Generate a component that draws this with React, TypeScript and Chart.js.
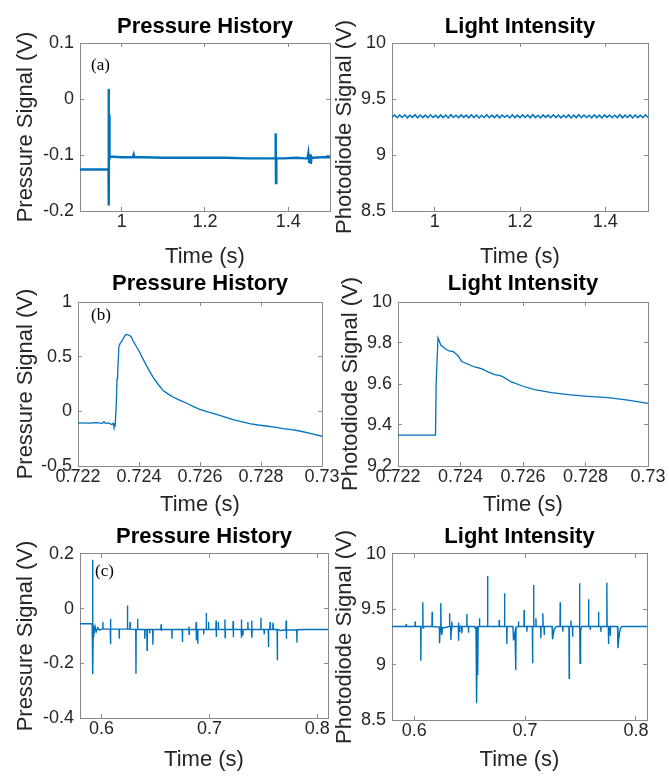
import React, { useEffect, useRef } from 'react';
import { Chart, registerables } from 'chart.js';
Chart.register(...registerables);

const W = 669;
const H = 778;
const FONT = "'Liberation Sans', Arial, Helvetica, sans-serif";
const SERIF = "'Liberation Serif', 'Times New Roman', serif";
const LINE = '#0072BD';
const AXIS = '#262626';
const BOX = '#8a8a8a';

// ---------- (a) pressure history ----------
const aPressT = [0.900, 0.930, 0.966, 0.9684, 0.9688, 0.9692, 0.9696, 0.9700, 0.9704, 0.9720, 0.9800, 1.0000, 1.0200, 1.0270, 1.0290, 1.0310, 1.0500, 1.1000, 1.1500, 1.2000, 1.2500, 1.3000, 1.3500, 1.3680, 1.3696, 1.3704, 1.3712, 1.3730, 1.3900, 1.4200, 1.4400, 1.4460, 1.4480, 1.4500, 1.4520, 1.4540, 1.4560, 1.4600, 1.4800, 1.5000];
const aPressV = [-0.126, -0.126, -0.126, -0.125, 0.018, -0.190, -0.028, -0.100, -0.108, -0.103, -0.103, -0.104, -0.104, -0.104, -0.099, -0.104, -0.104, -0.105, -0.105, -0.105, -0.105, -0.106, -0.106, -0.106, -0.061, -0.150, -0.106, -0.106, -0.106, -0.105, -0.106, -0.106, -0.097, -0.114, -0.099, -0.116, -0.104, -0.105, -0.104, -0.104];

// ---------- (a) light intensity ----------
const aLightT = [
  0.900, 0.906, 0.912, 0.918, 0.924, 0.930, 0.936, 0.942, 0.948, 0.954,
  0.960, 0.966, 0.972, 0.978, 0.984, 0.990, 0.996, 1.002, 1.008, 1.014,
  1.020, 1.026, 1.032, 1.038, 1.044, 1.050, 1.056, 1.062, 1.068, 1.074,
  1.080, 1.086, 1.092, 1.098, 1.104, 1.110, 1.116, 1.122, 1.128, 1.134,
  1.140, 1.146, 1.152, 1.158, 1.164, 1.170, 1.176, 1.182, 1.188, 1.194,
  1.200, 1.206, 1.212, 1.218, 1.224, 1.230, 1.236, 1.242, 1.248, 1.254,
  1.260, 1.266, 1.272, 1.278, 1.284, 1.290, 1.296, 1.302, 1.308, 1.314,
  1.320, 1.326, 1.332, 1.338, 1.344, 1.350, 1.356, 1.362, 1.368, 1.374,
  1.380, 1.386, 1.392, 1.398, 1.404, 1.410, 1.416, 1.422, 1.428, 1.434,
  1.440, 1.446, 1.452, 1.458, 1.464, 1.470, 1.476, 1.482, 1.488, 1.494,
  1.500,
];
const aLightV = [
  9.340, 9.358, 9.333, 9.356, 9.335, 9.359, 9.332, 9.355, 9.336, 9.360,
  9.331, 9.357, 9.334, 9.356, 9.333, 9.359, 9.335, 9.354, 9.332, 9.358,
  9.334, 9.357, 9.331, 9.360, 9.335, 9.355, 9.333, 9.358, 9.336, 9.356,
  9.332, 9.359, 9.334, 9.357, 9.331, 9.355, 9.335, 9.360, 9.333, 9.356,
  9.334, 9.358, 9.332, 9.357, 9.336, 9.355, 9.331, 9.359, 9.334, 9.356,
  9.333, 9.358, 9.335, 9.357, 9.332, 9.360, 9.334, 9.355, 9.331, 9.358,
  9.336, 9.356, 9.333, 9.359, 9.334, 9.357, 9.332, 9.355, 9.335, 9.358,
  9.331, 9.356, 9.334, 9.360, 9.333, 9.357, 9.335, 9.355, 9.332, 9.359,
  9.334, 9.356, 9.331, 9.358, 9.336, 9.357, 9.333, 9.355, 9.334, 9.360,
  9.332, 9.356, 9.335, 9.358, 9.331, 9.357, 9.334, 9.355, 9.333, 9.359,
  9.335,
];

// ---------- (b) pressure history ----------
const bPressT = [0.72200, 0.72240, 0.72260, 0.72280, 0.72285, 0.72290, 0.72300, 0.72310, 0.72315, 0.72318, 0.72320, 0.72322, 0.72326, 0.72328, 0.72330, 0.72334, 0.72338, 0.72343, 0.72348, 0.72353, 0.72358, 0.72364, 0.72369, 0.72375, 0.72380, 0.72390, 0.72402, 0.72413, 0.72424, 0.72435, 0.72446, 0.72462, 0.72479, 0.72495, 0.72511, 0.72533, 0.72555, 0.72577, 0.72599, 0.72626, 0.72654, 0.72680, 0.72708, 0.72735, 0.72763, 0.72790, 0.72817, 0.72845, 0.72872, 0.72900, 0.72927, 0.72965, 0.73000];
const bPressV = [-0.106, -0.108, -0.104, -0.110, -0.095, -0.110, -0.105, -0.120, -0.110, -0.140, -0.125, -0.130, 0.100, 0.300, 0.350, 0.590, 0.620, 0.640, 0.663, 0.690, 0.703, 0.700, 0.694, 0.680, 0.648, 0.600, 0.540, 0.480, 0.420, 0.365, 0.313, 0.250, 0.190, 0.160, 0.131, 0.103, 0.076, 0.045, 0.018, -0.006, -0.027, -0.050, -0.076, -0.095, -0.113, -0.125, -0.134, -0.145, -0.158, -0.168, -0.180, -0.203, -0.228];

// ---------- (b) light intensity ----------
const bLightT = [0.72200, 0.72320, 0.72322, 0.72328, 0.72337, 0.72350, 0.72365, 0.72376, 0.72387, 0.72395, 0.72403, 0.72419, 0.72445, 0.72467, 0.72488, 0.72509, 0.72527, 0.72536, 0.72563, 0.72600, 0.72637, 0.72691, 0.72744, 0.72808, 0.72872, 0.72936, 0.73000];
const bLightV = [9.351, 9.351, 9.600, 9.825, 9.790, 9.773, 9.760, 9.759, 9.745, 9.732, 9.711, 9.700, 9.683, 9.675, 9.659, 9.646, 9.641, 9.635, 9.610, 9.589, 9.573, 9.558, 9.548, 9.540, 9.534, 9.521, 9.505];

// ---------- (c) pressure history ----------
const cPressT = [
  0.5800, 0.5909, 0.5913, 0.5916, 0.5918, 0.5920, 0.5923, 0.5930, 0.5940, 0.5950, 0.5965, 0.5980,
  0.6010, 0.6012, 0.6014,
  0.6080, 0.6082, 0.6084, 0.6086,
  0.6162, 0.6164, 0.6166,
  0.6238, 0.6240, 0.6242,
  0.6262, 0.6264, 0.6266,
  0.6317, 0.6319, 0.6321,
  0.6332, 0.6334, 0.6336,
  0.6399, 0.6401, 0.6403,
  0.6420, 0.6422, 0.6424,
  0.6444, 0.6446, 0.6448,
  0.6474, 0.6476, 0.6478,
  0.6550, 0.6552, 0.6554, 0.6556,
  0.6651, 0.6653, 0.6655,
  0.6748, 0.6750, 0.6752,
  0.6808, 0.6810, 0.6812, 0.6814,
  0.6875, 0.6877, 0.6879, 0.6881,
  0.6890, 0.6892, 0.6894,
  0.6945, 0.6947, 0.6949,
  0.6969, 0.6971, 0.6973,
  0.6990, 0.6992, 0.6994,
  0.7060, 0.7062, 0.7064, 0.7066,
  0.7081, 0.7083, 0.7085,
  0.7142, 0.7144, 0.7146, 0.7148,
  0.7218, 0.7220, 0.7222, 0.7224,
  0.7294, 0.7296, 0.7298, 0.7300,
  0.7309, 0.7311, 0.7313,
  0.7355, 0.7357, 0.7359,
  0.7391, 0.7393, 0.7395, 0.7397,
  0.7476, 0.7478, 0.7480,
  0.7506, 0.7508, 0.7510,
  0.7546, 0.7548, 0.7550,
  0.7561, 0.7563, 0.7565,
  0.7588, 0.7590, 0.7592,
  0.7628, 0.7630, 0.7632,
  0.7650, 0.7660, 0.7690,
  0.7710, 0.7712, 0.7714, 0.7716,
  0.7810, 0.7812, 0.7814,
  0.7900, 0.8000, 0.8100,
];
const cPressV = [
  -0.055, -0.055, -0.056, 0.179, 0.067, -0.240, -0.060, -0.090, -0.065, -0.085, -0.070, -0.078,
  -0.075, -0.049, -0.075,
  -0.075, -0.037, -0.130, -0.075,
  -0.075, -0.110, -0.075,
  -0.075, 0.012, -0.075,
  -0.075, -0.049, -0.075,
  -0.076, -0.238, -0.076,
  -0.076, -0.037, -0.076,
  -0.076, -0.110, -0.076,
  -0.076, -0.152, -0.076,
  -0.076, -0.091, -0.076,
  -0.076, -0.132, -0.076,
  -0.076, -0.057, -0.082, -0.076,
  -0.076, -0.110, -0.076,
  -0.076, -0.122, -0.076,
  -0.076, -0.065, -0.094, -0.076,
  -0.076, -0.049, -0.116, -0.076,
  -0.076, -0.128, -0.076,
  -0.076, -0.094, -0.076,
  -0.076, -0.016, -0.076,
  -0.076, -0.049, -0.076,
  -0.076, -0.043, -0.104, -0.076,
  -0.076, -0.049, -0.076,
  -0.076, -0.040, -0.106, -0.076,
  -0.076, -0.045, -0.104, -0.076,
  -0.076, -0.040, -0.106, -0.076,
  -0.076, -0.098, -0.076,
  -0.076, -0.049, -0.076,
  -0.076, -0.043, -0.106, -0.076,
  -0.076, -0.033, -0.076,
  -0.076, -0.091, -0.076,
  -0.076, -0.140, -0.076,
  -0.076, -0.049, -0.076,
  -0.076, -0.052, -0.076,
  -0.076, -0.189, -0.076,
  -0.079, -0.080, -0.078,
  -0.078, -0.043, -0.110, -0.078,
  -0.077, -0.124, -0.077,
  -0.076, -0.076, -0.076,
];

// ---------- (c) light intensity ----------
const cLightT = [
  0.5800,
  0.5926, 0.5928, 0.5930,
  0.6007, 0.6009, 0.6011,
  0.6058, 0.6060, 0.6062,
  0.6076, 0.6078, 0.6080, 0.6085,
  0.6160, 0.6162, 0.6164,
  0.6227, 0.6229, 0.6233, 0.6239, 0.6241, 0.6243, 0.6248, 0.6250, 0.6256,
  0.6317, 0.6319, 0.6321, 0.6329, 0.6331, 0.6335, 0.6338, 0.6340, 0.6342,
  0.6398, 0.6400, 0.6402, 0.6406, 0.6412,
  0.6428, 0.6430, 0.6434,
  0.6473, 0.6475, 0.6477, 0.6488, 0.6490, 0.6492,
  0.6545, 0.6550, 0.6557, 0.6559, 0.6561, 0.6563, 0.6565, 0.6568, 0.6572, 0.6574, 0.6577, 0.6587, 0.6589, 0.6591,
  0.6660, 0.6662, 0.6664,
  0.6765, 0.6767, 0.6769,
  0.6813, 0.6815, 0.6817, 0.6834, 0.6836, 0.6838,
  0.6890, 0.6896, 0.6902, 0.6910, 0.6915, 0.6917, 0.6919, 0.6930,
  0.6939, 0.6941, 0.6943,
  0.6990, 0.6992, 0.6994, 0.7015, 0.7017, 0.7019,
  0.7066, 0.7068, 0.7070, 0.7075, 0.7077, 0.7079, 0.7096, 0.7098, 0.7100,
  0.7141, 0.7143, 0.7145, 0.7159, 0.7161, 0.7163, 0.7171, 0.7173, 0.7175,
  0.7244, 0.7248, 0.7254, 0.7262, 0.7272, 0.7285,
  0.7315, 0.7317, 0.7319, 0.7339, 0.7341, 0.7343,
  0.7396, 0.7398, 0.7400, 0.7412, 0.7414, 0.7416, 0.7427, 0.7429, 0.7431,
  0.7490, 0.7492, 0.7494, 0.7496, 0.7499, 0.7503, 0.7510,
  0.7571, 0.7573, 0.7575, 0.7586, 0.7588, 0.7590,
  0.7661, 0.7663, 0.7665, 0.7682, 0.7684, 0.7686,
  0.7736, 0.7738, 0.7740, 0.7751, 0.7753, 0.7755, 0.7766, 0.7768, 0.7770,
  0.7834, 0.7838, 0.7844, 0.7852, 0.7862, 0.7875,
  0.7950, 0.8100,
];
const cLightV = [
  9.345,
  9.345, 9.367, 9.345,
  9.345, 9.389, 9.345,
  9.345, 9.036, 9.345,
  9.345, 9.563, 9.330, 9.345,
  9.345, 9.479, 9.345,
  9.340, 9.193, 9.300, 9.345, 9.554, 9.345, 9.345, 9.268, 9.330,
  9.345, 9.464, 9.345, 9.345, 9.223, 9.320, 9.345, 9.389, 9.345,
  9.345, 9.217, 9.380, 9.300, 9.345,
  9.345, 9.283, 9.345,
  9.345, 9.458, 9.345, 9.345, 9.289, 9.345,
  9.345, 9.330, 9.345, 9.163, 9.340, 9.345, 8.651, 9.200, 9.350, 8.907, 9.345, 9.345, 9.419, 9.345,
  9.345, 9.801, 9.345,
  9.345, 9.404, 9.345,
  9.345, 9.645, 9.345, 9.345, 9.187, 9.345,
  9.345, 9.220, 9.260, 9.300, 9.320, 8.952, 9.330, 9.345,
  9.345, 9.389, 9.345,
  9.345, 9.494, 9.345, 9.345, 9.298, 9.345,
  9.345, 9.012, 9.330, 9.345, 9.720, 9.345, 9.345, 9.419, 9.345,
  9.345, 9.238, 9.345, 9.345, 9.464, 9.345, 9.345, 9.268, 9.345,
  9.345, 9.229, 9.270, 9.310, 9.335, 9.345,
  9.345, 9.563, 9.345, 9.345, 9.298, 9.345,
  9.345, 8.877, 9.345, 9.345, 9.398, 9.345, 9.345, 9.253, 9.345,
  9.345, 9.735, 9.345, 9.012, 9.148, 9.300, 9.345,
  9.345, 9.590, 9.345, 9.345, 9.313, 9.345,
  9.345, 9.479, 9.345, 9.345, 9.298, 9.345,
  9.345, 9.741, 9.345, 9.345, 9.187, 9.345, 9.345, 9.268, 9.345,
  9.345, 9.148, 9.220, 9.290, 9.330, 9.345,
  9.345, 9.345,
];

// ---------- ticks ----------
const xTicksA = [1, 1.2, 1.4];
const xLabelsA = ['1', '1.2', '1.4'];
const xTicksB = [0.722, 0.724, 0.726, 0.728, 0.73];
const xLabelsB = ['0.722', '0.724', '0.726', '0.728', '0.73'];
const xTicksC = [0.6, 0.7, 0.8];
const xLabelsC = ['0.6', '0.7', '0.8'];
const yTicksPA = [-0.2, -0.1, 0, 0.1];
const yLabelsPA = ['-0.2', '-0.1', '0', '0.1'];
const yTicksLA = [8.5, 9, 9.5, 10];
const yLabelsLA = ['8.5', '9', '9.5', '10'];
const yTicksPB = [-0.5, 0, 0.5, 1];
const yLabelsPB = ['-0.5', '0', '0.5', '1'];
const yTicksLB = [9.2, 9.4, 9.6, 9.8, 10];
const yLabelsLB = ['9.2', '9.4', '9.6', '9.8', '10'];
const yTicksPC = [-0.4, -0.2, 0, 0.2];
const yLabelsPC = ['-0.4', '-0.2', '0', '0.2'];

type Panel = {
  title: string; yTitle: string; label: string;
  t: number[]; v: number[]; lw: number;
  xMin: number; xMax: number; xTicks: number[]; xLabels: string[];
  yMin: number; yMax: number; yTicks: number[]; yLabels: string[];
  area: number[]; titleY: number; xTitleY: number; yTitleX: number; labelPos: number[];
};

const panels: Panel[] = [
  { title: 'Pressure History', yTitle: 'Pressure Signal (V)', label: '(a)', t: aPressT, v: aPressV, lw: 2.4,
    xMin: 0.9, xMax: 1.5, xTicks: xTicksA, xLabels: xLabelsA, yMin: -0.2, yMax: 0.1, yTicks: yTicksPA, yLabels: yLabelsPA,
    area: [80, 43, 330, 211], titleY: 26.5, xTitleY: 257, yTitleX: 26, labelPos: [11, 23] },
  { title: 'Light Intensity', yTitle: 'Photodiode Signal (V)', label: '', t: aLightT, v: aLightV, lw: 1.5,
    xMin: 0.9, xMax: 1.5, xTicks: xTicksA, xLabels: xLabelsA, yMin: 8.5, yMax: 10, yTicks: yTicksLA, yLabels: yLabelsLA,
    area: [392, 43, 648, 211], titleY: 26.5, xTitleY: 257, yTitleX: 345, labelPos: [0, 0] },
  { title: 'Pressure History', yTitle: 'Pressure Signal (V)', label: '(b)', t: bPressT, v: bPressV, lw: 1.3,
    xMin: 0.722, xMax: 0.73, xTicks: xTicksB, xLabels: xLabelsB, yMin: -0.5, yMax: 1, yTicks: yTicksPB, yLabels: yLabelsPB,
    area: [78, 302, 322, 466], titleY: 283.5, xTitleY: 505, yTitleX: 26, labelPos: [13, 14] },
  { title: 'Light Intensity', yTitle: 'Photodiode Signal (V)', label: '', t: bLightT, v: bLightV, lw: 1.3,
    xMin: 0.722, xMax: 0.73, xTicks: xTicksB, xLabels: xLabelsB, yMin: 9.2, yMax: 10, yTicks: yTicksLB, yLabels: yLabelsLB,
    area: [398, 302, 648, 466], titleY: 283.5, xTitleY: 505, yTitleX: 351, labelPos: [0, 0] },
  { title: 'Pressure History', yTitle: 'Pressure Signal (V)', label: '(c)', t: cPressT, v: cPressV, lw: 1.4,
    xMin: 0.58, xMax: 0.81, xTicks: xTicksC, xLabels: xLabelsC, yMin: -0.4, yMax: 0.2, yTicks: yTicksPC, yLabels: yLabelsPC,
    area: [80, 554, 328, 718], titleY: 536.5, xTitleY: 760, yTitleX: 26, labelPos: [15, 18] },
  { title: 'Light Intensity', yTitle: 'Photodiode Signal (V)', label: '', t: cLightT, v: cLightV, lw: 1.4,
    xMin: 0.58, xMax: 0.81, xTicks: xTicksC, xLabels: xLabelsC, yMin: 8.5, yMax: 10, yTicks: yTicksLA, yLabels: yLabelsLA,
    area: [392, 554, 647, 720], titleY: 537, xTitleY: 760, yTitleX: 345, labelPos: [0, 0] },
];

const YW = 60;
const XH = 56;
const TITLE_SIZE = 22;
const LH = TITLE_SIZE * 1.2;
const TICK_SIZE = 18;

function labelFor(ticks: number[], labels: string[], val: number) {
  const i = ticks.findIndex((t) => Math.abs(t - val) < 1e-9);
  return i >= 0 ? labels[i] : '';
}

function makeConfig(p: Panel): any {
  const [L, T, R, B] = p.area;
  const tickFont = { family: FONT, size: TICK_SIZE };
  const xTickObjs = () => p.xTicks.map((v) => ({ value: v }));
  const yTickObjs = () => p.yTicks.map((v) => ({ value: v }));
  const textPlugin = {
    id: 'panelText',
    afterDraw(chart: any) {
      const ctx = chart.ctx;
      const ca = chart.chartArea;
      ctx.save();
      ctx.translate(p.yTitleX, (ca.top + ca.bottom) / 2);
      ctx.rotate(-Math.PI / 2);
      ctx.font = `${TITLE_SIZE}px ${FONT}`;
      ctx.fillStyle = AXIS;
      ctx.textAlign = 'center';
      ctx.textBaseline = 'middle';
      ctx.fillText(p.yTitle, 0, 0);
      ctx.restore();
      if (p.label) {
        ctx.save();
        ctx.font = `17px ${SERIF}`;
        ctx.fillStyle = '#000';
        ctx.textAlign = 'left';
        ctx.textBaseline = 'middle';
        ctx.fillText(p.label, ca.left + p.labelPos[0], ca.top + p.labelPos[1]);
        ctx.restore();
      }
    },
  };
  return {
    type: 'line',
    data: {
      datasets: [{
        data: p.t.map((x, i) => ({ x, y: p.v[i] })),
        borderColor: LINE,
        borderWidth: p.lw,
        pointRadius: 0,
        tension: 0,
        fill: false,
        borderJoinStyle: 'miter',
      }],
    },
    options: {
      responsive: false,
      animation: false,
      events: [],
      layout: { padding: { left: L - YW, right: W - R, top: 0, bottom: H - B - XH } },
      plugins: {
        legend: { display: false },
        tooltip: { enabled: false },
        title: {
          display: true, text: p.title, fullSize: false, color: '#000',
          font: { family: FONT, size: TITLE_SIZE, weight: 'bold' },
          padding: { top: p.titleY - LH / 2, bottom: T - p.titleY - LH / 2 },
        },
      },
      scales: {
        x: {
          type: 'linear', position: 'bottom', min: p.xMin, max: p.xMax,
          afterBuildTicks: (s: any) => { s.ticks = xTickObjs(); },
          afterFit: (s: any) => { s.height = XH; s.paddingLeft = 0; s.paddingRight = 0; },
          ticks: { autoSkip: false, maxRotation: 0, minRotation: 0, font: tickFont, color: AXIS, padding: 4,
            callback: (val: number) => labelFor(p.xTicks, p.xLabels, val) },
          grid: { drawOnChartArea: false, tickLength: -4, color: BOX },
          border: { display: true, color: BOX, width: 1 },
          title: { display: true, text: 'Time (s)', color: AXIS, font: { family: FONT, size: TITLE_SIZE },
            padding: { top: 0, bottom: B + XH - p.xTitleY - LH / 2 } },
        },
        x2: {
          type: 'linear', position: 'top', min: p.xMin, max: p.xMax,
          afterBuildTicks: (s: any) => { s.ticks = xTickObjs(); },
          afterFit: (s: any) => { s.height = 0; s.paddingLeft = 0; s.paddingRight = 0; },
          ticks: { display: false },
          grid: { drawOnChartArea: false, tickLength: -4, color: BOX },
          border: { display: true, color: BOX, width: 1 },
        },
        y: {
          type: 'linear', position: 'left', min: p.yMin, max: p.yMax,
          afterBuildTicks: (s: any) => { s.ticks = yTickObjs(); },
          afterFit: (s: any) => { s.width = YW; s.paddingTop = 0; s.paddingBottom = 0; },
          ticks: { autoSkip: false, font: tickFont, color: AXIS, padding: 10,
            callback: (val: number) => labelFor(p.yTicks, p.yLabels, val) },
          grid: { drawOnChartArea: false, tickLength: -4, color: BOX },
          border: { display: true, color: BOX, width: 1 },
        },
        y2: {
          type: 'linear', position: 'right', min: p.yMin, max: p.yMax,
          afterBuildTicks: (s: any) => { s.ticks = yTickObjs(); },
          afterFit: (s: any) => { s.width = 0; s.paddingTop = 0; s.paddingBottom = 0; },
          ticks: { display: false },
          grid: { drawOnChartArea: false, tickLength: -4, color: BOX },
          border: { display: true, color: BOX, width: 1 },
        },
      },
    },
    plugins: [textPlugin],
  };
}

function PanelCanvas({ p }: { p: Panel }) {
  const ref = useRef<HTMLCanvasElement>(null);
  useEffect(() => {
    if (!ref.current) return;
    const chart = new Chart(ref.current, makeConfig(p));
    return () => chart.destroy();
  }, [p]);
  return (
    <canvas
      ref={ref}
      width={W}
      height={H}
      style={{ position: 'absolute', left: 0, top: 0, width: W, height: H }}
    />
  );
}

export default function App() {
  return (
    <div style={{ position: 'absolute', left: 0, top: 0, width: W, height: H, background: '#fff', overflow: 'hidden' }}>
      {panels.map((p, i) => (
        <PanelCanvas key={i} p={p} />
      ))}
    </div>
  );
}
